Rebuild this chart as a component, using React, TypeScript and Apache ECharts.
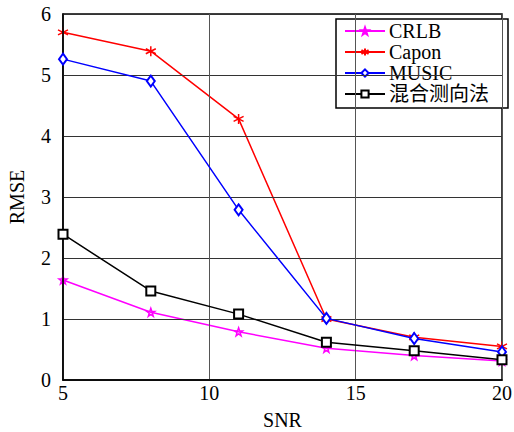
import React, { useEffect, useRef } from "react";
import * as echarts from "echarts";

const snr = [5, 8, 11, 14, 17, 20];
const crlb = [1.64, 1.11, 0.79, 0.52, 0.4, 0.31];
const capon = [5.7, 5.39, 4.28, 1.0, 0.7, 0.55];
const music = [5.26, 4.9, 2.79, 1.01, 0.68, 0.46];
const hybrid = [2.39, 1.46, 1.08, 0.62, 0.48, 0.33];
const names = ["CRLB", "Capon", "MUSIC", "混合测向法"];

const serif = "'Liberation Serif', 'Times New Roman', serif";
const legendFont = "'Liberation Serif', 'Noto Sans CJK SC', serif";

const starPath =
  "path://M0,-10L2.35,-3.24L9.51,-3.09L3.8,1.24L5.88,8.09L0,4L-5.88,8.09L-3.8,1.24L-9.51,-3.09L-2.35,-3.24Z";
const asteriskPath =
  "path://M0,-10L0,10M-8.66,-5L8.66,5M-8.66,5L8.66,-5";

export default function App() {
  const ref = useRef<HTMLDivElement>(null);
  useEffect(() => {
    const chart = echarts.init(ref.current!, undefined, { renderer: "svg" });
    const pair = (arr: number[]) => snr.map((x, i) => [x, arr[i]]);
    chart.setOption({
      animation: false,
      backgroundColor: "#fff",
      grid: {
        left: 63,
        right: 12,
        top: 14,
        bottom: 52,
        containLabel: false,
        outerBoundsMode: "none",
        show: true,
        borderColor: "#000",
        borderWidth: 1.5,
      },
      xAxis: {
        type: "value",
        min: 5,
        max: 20,
        interval: 5,
        z: 5,
        name: "SNR",
        nameLocation: "middle",
        nameGap: 30,
        nameTextStyle: { fontFamily: serif, fontSize: 20, color: "#000" },
        axisLine: { show: true, lineStyle: { color: "#000", width: 1.5 } },
        axisTick: { show: false },
        axisLabel: { fontFamily: serif, fontSize: 20, color: "#000", margin: 3 },
        splitLine: { show: true, lineStyle: { color: "#555", width: 1 } },
      },
      yAxis: {
        type: "value",
        min: 0,
        max: 6,
        interval: 1,
        z: 5,
        name: "RMSE",
        nameLocation: "middle",
        nameGap: 36,
        nameTextStyle: { fontFamily: serif, fontSize: 20, color: "#000" },
        axisLine: { show: true, lineStyle: { color: "#000", width: 1.5 } },
        axisTick: { show: false },
        axisLabel: { fontFamily: serif, fontSize: 20, color: "#000", margin: 12 },
        splitLine: { show: true, lineStyle: { color: "#333", width: 1 } },
      },
      legend: {
        orient: "vertical",
        left: 336,
        top: 19,
        z: 1,
        padding: [2, 19, 4, 8],
        itemGap: 1,
        itemWidth: 40,
        itemHeight: 9,
        backgroundColor: "#fff",
        borderColor: "#000",
        borderWidth: 1.5,
        borderRadius: 0,
        data: names,
        textStyle: {
          fontFamily: legendFont,
          fontSize: 20,
          lineHeight: 20,
          color: "#000",
          padding: [0, 0, 0, -1],
        },
      },
      series: [
        {
          name: names[0],
          type: "line",
          data: pair(crlb),
          symbol: starPath,
          symbolSize: 8,
          lineStyle: { color: "#ff00ff", width: 1.5 },
          itemStyle: { color: "rgba(0,0,0,0)", borderColor: "#ff00ff", borderWidth: 1.5 },
          z: 3,
        },
        {
          name: names[1],
          type: "line",
          data: pair(capon),
          symbol: asteriskPath,
          symbolSize: 10,
          lineStyle: { color: "#ff0000", width: 1.5 },
          itemStyle: { color: "rgba(0,0,0,0)", borderColor: "#ff0000", borderWidth: 1.5 },
          z: 4,
        },
        {
          name: names[2],
          type: "line",
          data: pair(music),
          symbol: "emptyDiamond",
          symbolSize: [8, 11],
          lineStyle: { color: "#0000ff", width: 1.5 },
          itemStyle: { color: "#0000ff", borderColor: "#0000ff", borderWidth: 1.5 },
          z: 5,
        },
        {
          name: names[3],
          type: "line",
          data: pair(hybrid),
          symbol: "emptyRect",
          symbolSize: 9,
          lineStyle: { color: "#000", width: 1.5 },
          itemStyle: { color: "#000", borderColor: "#000", borderWidth: 1.5 },
          z: 6,
        },
      ],
    });
    return () => chart.dispose();
  }, []);
  return (
    <div
      ref={ref}
      style={{ position: "fixed", left: 0, top: 0, width: 514, height: 432 }}
    />
  );
}
